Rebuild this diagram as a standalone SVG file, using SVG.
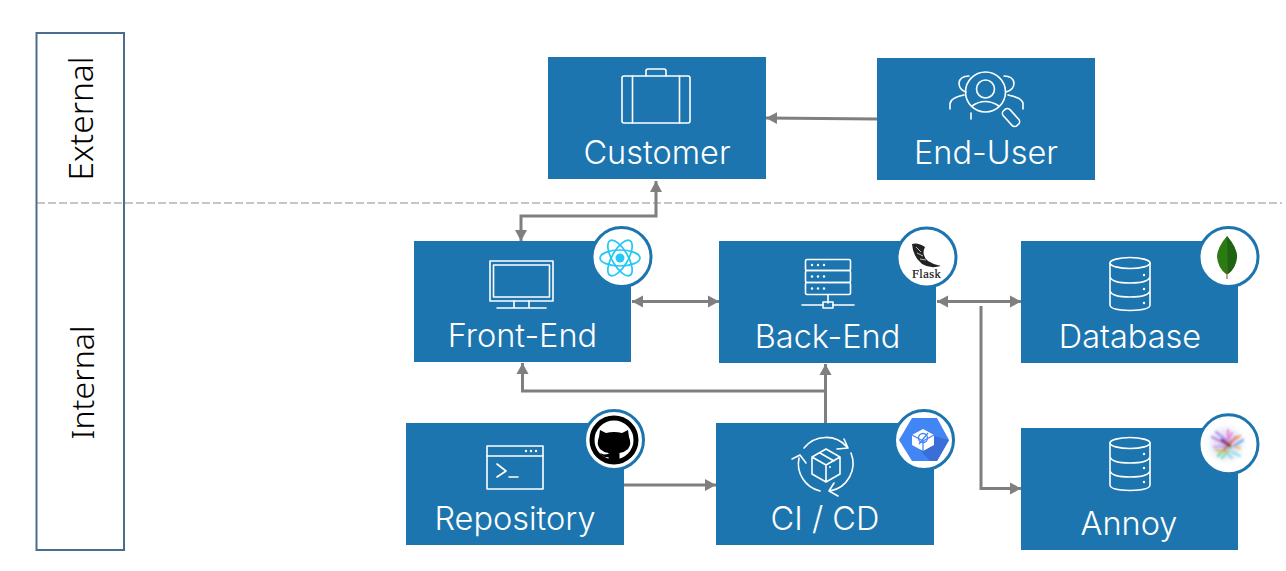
<svg xmlns="http://www.w3.org/2000/svg" width="1286" height="571" viewBox="0 0 1286 571">
<style>
.box{fill:#1c75ae}
.lbl{font-family:"Inter","Liberation Sans",sans-serif;font-weight:300;font-size:32.500px;fill:#fff;text-anchor:middle}
.lane{font-family:"Noto Sans","Liberation Sans",sans-serif;font-weight:300;fill:#000;text-anchor:middle}
.ic{fill:none;stroke:#fff;stroke-width:1.6;stroke-linejoin:round;stroke-linecap:round}
.dot{fill:#fff}
.badge{fill:#fff;stroke:#1c75ae;stroke-width:3}
.con{fill:none;stroke:#7f7f7f;stroke-width:3}
</style>
<defs>
<marker id="end" markerUnits="userSpaceOnUse" markerWidth="12" markerHeight="13" refX="11" refY="6.500" orient="auto"><path d="M0 .5L11 6.500L0 12.500Z" fill="#7f7f7f"/></marker>
<marker id="start" markerUnits="userSpaceOnUse" markerWidth="12" markerHeight="13" refX="0" refY="6.500" orient="auto"><path d="M11 .5L0 6.500L11 12.500Z" fill="#7f7f7f"/></marker>
<filter id="soft" x="-40%" y="-40%" width="180%" height="180%"><feGaussianBlur stdDeviation="1"/></filter>
<radialGradient id="halo"><stop offset="0" stop-color="#c9b6e8" stop-opacity=".85"/><stop offset=".55" stop-color="#d7d4ee" stop-opacity=".6"/><stop offset="1" stop-color="#e8f4f4" stop-opacity="0"/></radialGradient>
</defs>
<g id="lanes">
<rect x="36.500" y="33" width="87.500" height="517" fill="#fff" stroke="#4a6d8f" stroke-width="2"/>
<line x1="37" y1="203" x2="1282" y2="203" stroke="#8c8c8c" stroke-width="1" stroke-dasharray="8 3"/>
<text class="lane" font-size="33.500" transform="translate(93 118.500) rotate(-90)">External</text>
<text class="lane" font-size="32" transform="translate(94 382.500) rotate(-90)">Internal</text>
</g>
<g id="connectors">
<path class="con" marker-end="url(#end)" d="M877 119L766 118"/>
<path class="con" marker-start="url(#start)" marker-end="url(#end)" d="M521 241V216H656V181"/>
<path class="con" marker-start="url(#start)" marker-end="url(#end)" d="M632 301.500H719"/>
<path class="con" marker-start="url(#start)" marker-end="url(#end)" d="M937 301.500H1021"/>
<path class="con" marker-end="url(#end)" d="M981 306V488.500H1021"/>
<path class="con" marker-end="url(#end)" d="M825.500 423V364"/>
<path class="con" marker-end="url(#end)" d="M825 391H522.500V363"/>
<path class="con" marker-end="url(#end)" d="M624 485H716"/>
</g>
<g id="customer">
<rect class="box" x="548" y="57" width="218" height="122"/>
<g class="ic">
<rect x="622" y="76" width="68" height="47" rx="2"/>
<path d="M632.500 76V123M679.500 76V123M646 76V71Q646 69 648 69H664Q666 69 666 71V76"/>
</g>
<text class="lbl" x="657" y="164">Customer</text>
</g>
<g id="end-user">
<rect class="box" x="877" y="58" width="218" height="122"/>
<g class="ic">
<circle cx="985.500" cy="92" r="20"/>
<circle cx="985.500" cy="89" r="9"/>
<path d="M972 106Q985 97 999 106"/>
<rect x="1006.500" y="107.500" width="9" height="20" rx="3.500" transform="rotate(-42 1011 117.500)"/>
<path d="M966 92Q959 90 959 83Q960 76 969 76M1004 76Q1013 76 1014 83Q1014 90 1006 92"/>
<path d="M950 109V104Q950 98 964 95M1023 109V104Q1023 98 1008 95"/>
<path d="M971 119V113"/>
</g>
<text class="lbl" x="986" y="164">End-User</text>
</g>
<g id="front-end">
<rect class="box" x="414" y="241" width="217" height="121"/>
<g class="ic">
<rect x="490" y="261" width="63" height="40"/><rect x="493.500" y="265" width="56" height="32"/>
<path d="M497 308H546M514 301V308M529 301V308"/>
</g>
<text class="lbl" x="522.500" y="347">Front-End</text>
<circle class="badge" cx="621.500" cy="257" r="29.500"/>
<g fill="none" stroke="#22c9f5" stroke-width="1.700">
<ellipse cx="620" cy="258" rx="20" ry="8"/>
<ellipse cx="620" cy="258" rx="20" ry="8" transform="rotate(60 620 258)"/>
<ellipse cx="620" cy="258" rx="20" ry="8" transform="rotate(120 620 258)"/>
</g>
<circle cx="620" cy="258" r="4.500" fill="#22c9f5"/>
</g>
<g id="back-end">
<rect class="box" x="719" y="241" width="217" height="122"/>
<g class="ic">
<rect x="805.500" y="259.500" width="45" height="11" rx="1.500"/><rect x="805.500" y="270.500" width="45" height="12" rx="1.500"/><rect x="805.500" y="282.500" width="45" height="12" rx="1.500"/>
<path d="M828 295V303M802 305H823M833 305H854"/><rect x="823" y="302" width="10" height="6"/>
</g>
<g class="dot"><circle cx="812" cy="265" r="1.200"/><circle cx="818" cy="265" r="1.200"/><circle cx="824" cy="265" r="1.200"/><circle cx="812" cy="276.500" r="1.200"/><circle cx="818" cy="276.500" r="1.200"/><circle cx="824" cy="276.500" r="1.200"/><circle cx="812" cy="288.500" r="1.200"/><circle cx="818" cy="288.500" r="1.200"/><circle cx="824" cy="288.500" r="1.200"/></g>
<text class="lbl" x="827.500" y="348">Back-End</text>
<circle class="badge" cx="926.500" cy="257.500" r="29.500"/>
<path d="M912 244Q918 242 925 247Q921 255 928 261Q934 265 941 266Q930 269 922 264Q913 257 912 244Z" fill="#222"/>
<path d="M916 247L921 252M917 253L923 256M920 259L926 260" stroke="#fff" stroke-width=".7" fill="none"/>
<text x="926.500" y="278" font-family="Liberation Serif,serif" font-size="12.500" letter-spacing=".4" stroke="#111" stroke-width=".2" fill="#111" text-anchor="middle">Flask</text>
</g>
<g id="database">
<rect class="box" x="1021" y="241" width="217" height="122"/>
<g class="ic">
<ellipse cx="1130" cy="263" rx="20" ry="5.500"/>
<path d="M1110 263V305Q1110 310 1130 310.500Q1150 310 1150 305V263M1110 277Q1112 283 1130 283Q1148 283 1150 277M1110 291Q1112 297 1130 297Q1148 297 1150 291"/>
</g>
<g class="dot"><circle cx="1144" cy="275" r="1.200"/><circle cx="1144" cy="289" r="1.200"/><circle cx="1144" cy="303" r="1.200"/></g>
<text class="lbl" x="1130" y="348">Database</text>
<circle class="badge" cx="1228.500" cy="257" r="29.500"/>
<path d="M1227 236Q1237 248 1237 257Q1236 268 1228 274H1226Q1218 268 1217 257Q1217 248 1227 236Z" fill="#2b7a12"/>
<path d="M1227 236Q1237 248 1237 257Q1236 268 1228 274Z" fill="#1f6212"/>
<path d="M1227 270V279" stroke="#6b5a2a" stroke-width="1"/>
</g>
<g id="repository">
<rect class="box" x="406" y="423" width="218" height="122"/>
<g class="ic">
<rect x="487" y="446" width="56" height="43"/><path d="M487 456H543M497 464L506 471L497 477M509 477H518"/>
</g>
<g class="dot"><circle cx="526" cy="451" r="1.200"/><circle cx="531" cy="451" r="1.200"/><circle cx="536" cy="451" r="1.200"/></g>
<text class="lbl" x="515" y="530">Repository</text>
<circle class="badge" cx="614" cy="440" r="29.500"/>
<circle cx="614" cy="440" r="22" fill="none" stroke="#000" stroke-width="5"/>
<path d="M600 430L606 433Q614 431 622 433L628 430L629 437Q632 444 628 449Q625 452 619.500 453V461H608.500V457Q603 458 600 453L604 454.500L608.500 454V453Q603 452 600 449Q596 444 599 437Z" fill="#000"/>
</g>
<g id="ci-cd">
<rect class="box" x="716" y="423" width="218" height="122"/>
<g class="ic">
<path d="M804 448A28 28 0 0 1 847 447M844 439L848 448L837 449"/>
<path d="M851 453A28 28 0 0 1 830 491M834 483L829 491L838 496"/>
<path d="M820 491A28 28 0 0 1 799 458M792 459L800 455L806 463"/>
<path d="M826 449L840 457V474L826 482L812 474V457ZM812 457L826 465L840 457M826 465V482M820 453L834 461"/>
</g>
<circle cx="830" cy="467" r="1" class="dot"/>
<text class="lbl" x="825" y="530">CI / CD</text>
<circle class="badge" cx="924" cy="440" r="29.500"/>
<path d="M912 418H937L949 440L937 461H912L899 440Z" fill="#4285f4"/>
<path d="M934 436L949 440L937 461H930L918 448Z" fill="#3a6fd8"/>
<path d="M923 429L934 435V445L923 451L912 445V435Z" fill="#fff"/>
<path d="M912 435L923 441L934 435M923 441V451M928 433L919 444" fill="none" stroke="#4285f4" stroke-width="1.300"/>
<circle cx="923" cy="438" r="4.500" fill="none" stroke="#4285f4" stroke-width="1.300"/>
</g>
<g id="annoy">
<rect class="box" x="1021" y="428" width="217" height="122"/>
<g class="ic">
<ellipse cx="1130" cy="443" rx="20" ry="5.500"/>
<path d="M1110 443V485Q1110 490 1130 490.500Q1150 490 1150 485V443M1110 457Q1112 463 1130 463Q1148 463 1150 457M1110 471Q1112 477 1130 477Q1148 477 1150 471"/>
</g>
<g class="dot"><circle cx="1144" cy="454" r="1.200"/><circle cx="1144" cy="468" r="1.200"/><circle cx="1144" cy="482" r="1.200"/></g>
<text class="lbl" x="1129" y="535">Annoy</text>
<circle class="badge" cx="1228.500" cy="444.300" r="29.500"/>
<circle cx="1226" cy="444" r="22" fill="url(#halo)"/>
<g stroke-width="2.200" stroke-linecap="round" filter="url(#soft)" fill="none" opacity=".9">
<path d="M1212 437L1224 443" stroke="#b57ae0"/>
<path d="M1216 432L1226 440" stroke="#a57ae8"/>
<path d="M1214 447L1226 446" stroke="#c79ae8"/>
<path d="M1218 456L1232 440" stroke="#4fd98a"/>
<path d="M1222 458L1230 448" stroke="#5fe0b0"/>
<path d="M1228 430L1228 445" stroke="#f07ad0"/>
<path d="M1232 433L1226 444" stroke="#e87adf"/>
<path d="M1228 444L1240 448" stroke="#f2c032"/>
<path d="M1224 450L1236 437" stroke="#e0466a"/>
<path d="M1226 452L1232 458" stroke="#74dfe0"/>
<path d="M1234 446L1243 440" stroke="#6aa0f0"/>
<path d="M1216 450L1228 452" stroke="#d6b23a"/>
<path d="M1232 452L1240 456" stroke="#7fe0e8"/>
<path d="M1222 440L1230 446" stroke="#6a2030" stroke-width="2.800"/>
<path d="M1234 440L1240 436" stroke="#e89a6a"/>
</g>
</g>
</svg>
